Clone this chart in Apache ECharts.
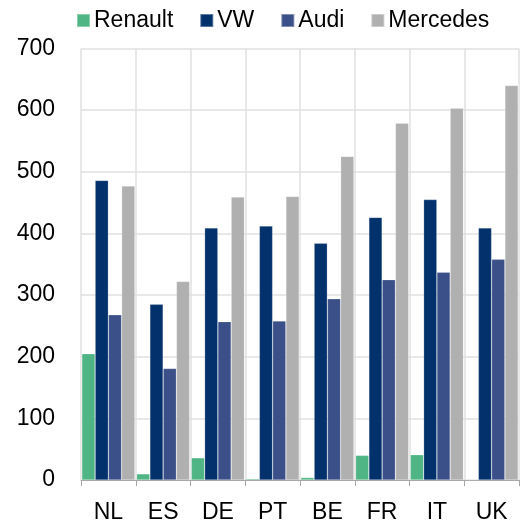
<!DOCTYPE html>
<html>
<head>
<meta charset="utf-8">
<script src="https://cdn.jsdelivr.net/npm/echarts@6/dist/echarts.min.js"></script>
<style>html,body{margin:0;padding:0;background:#fff}#c{width:521px;height:524px}</style>
</head>
<body>
<div id="c"></div>
<script>
const categories = ['NL', 'ES', 'DE', 'PT', 'BE', 'FR', 'IT', 'UK'];
const renault = [205, 10, 36, 2, 4, 40, 41, 1];
const vw = [486, 285, 409, 412, 384, 426, 455, 409];
const audi = [268, 181, 257, 258, 294, 325, 337, 358];
const mercedes = [477, 322, 459, 460, 525, 579, 603, 640];
const yTicks = [0, 100, 200, 300, 400, 500, 600, 700];

const chart = echarts.init(document.getElementById('c'));
const font = 'Liberation Sans, Arial, sans-serif';
function s(name, data, color) {
  return {
    name, type: 'bar', data,
    itemStyle: { color, borderColor: 'rgba(255,255,255,0.35)', borderWidth: 0.6 },
    barGap: '0%', barCategoryGap: '3%'
  };
}
chart.setOption({
  animation: false,
  textStyle: { fontFamily: font },
  legend: {
    top: 4, left: 71, itemWidth: 13, itemHeight: 13, itemGap: 26,
    icon: 'rect',
    textStyle: { fontSize: 23, color: '#000', fontFamily: font, padding: [0, 0, 0, -1] },
    data: ['Renault', 'VW', 'Audi', 'Mercedes']
  },
  grid: { left: 81, right: 2, top: 48.5, bottom: 40.5, containLabel: false },
  xAxis: {
    type: 'category', data: categories,
    axisLine: { lineStyle: { color: '#a6a6a6', width: 1 } },
    axisTick: { show: true, length: 6, lineStyle: { color: '#a6a6a6' } },
    axisLabel: { fontSize: 23, color: '#000', margin: 21, fontFamily: font },
    splitLine: { show: true, lineStyle: { color: '#e0e0e0', width: 1.5 } }
  },
  yAxis: {
    type: 'value', min: yTicks[0], max: yTicks[yTicks.length - 1], interval: 100,
    axisLine: { show: false }, axisTick: { show: false },
    axisLabel: { fontSize: 23, color: '#000', margin: 26, fontFamily: font },
    splitLine: { lineStyle: { color: '#e0e0e0', width: 1.5 } }
  },
  series: [
    s('Renault', renault, '#4fb584'),
    s('VW', vw, '#03316c'),
    s('Audi', audi, '#3b5088'),
    s('Mercedes', mercedes, '#b0b0b0')
  ]
});
</script>
</body>
</html>
